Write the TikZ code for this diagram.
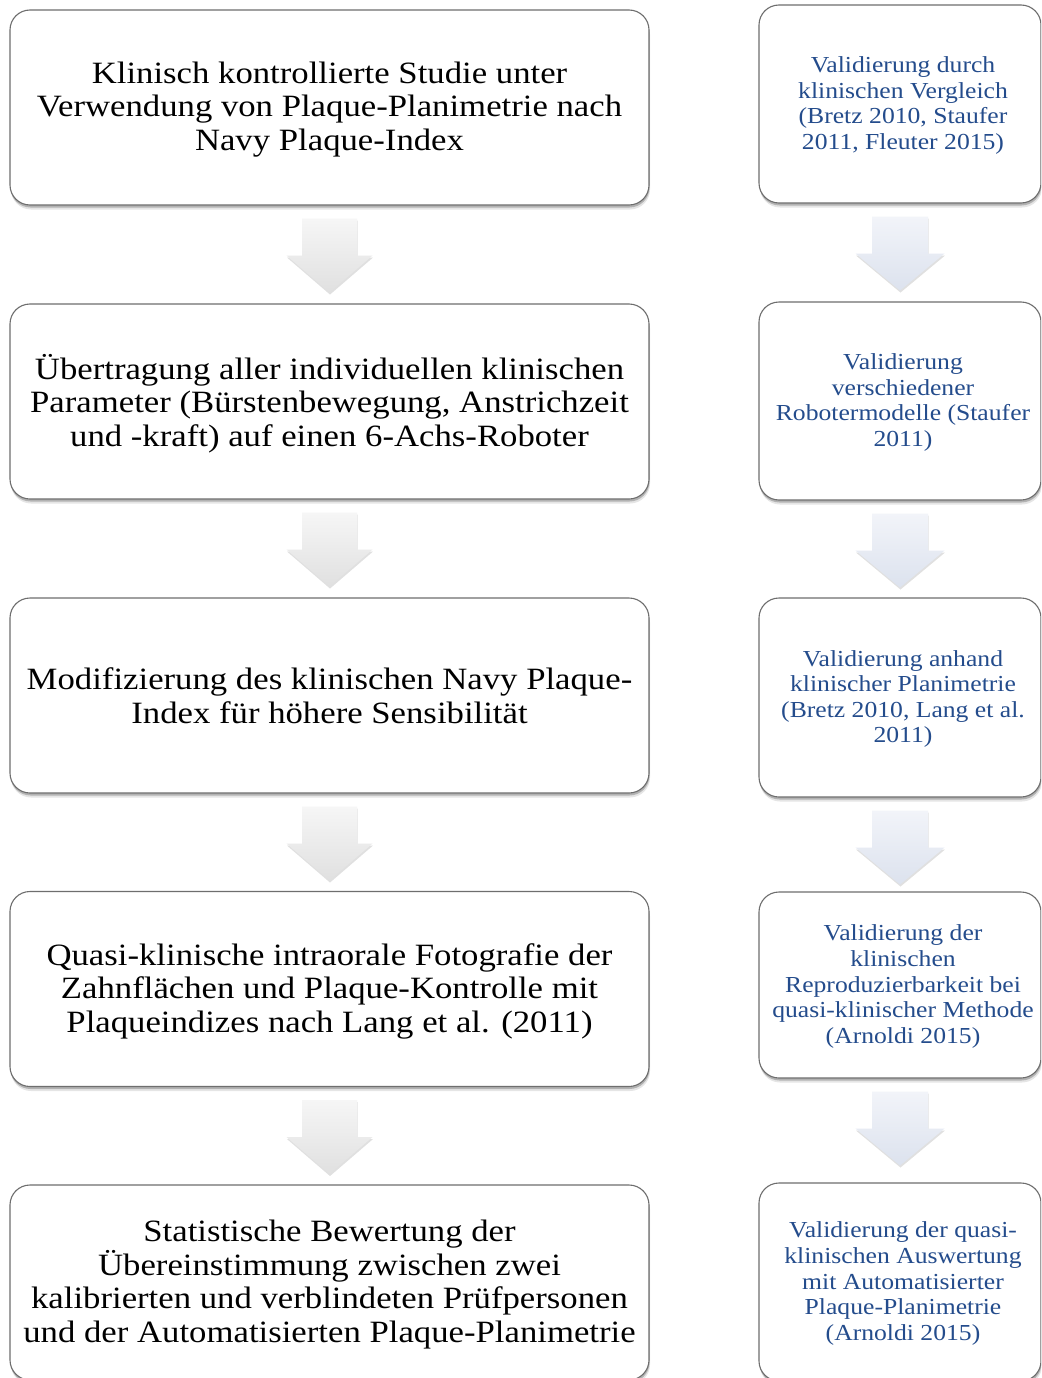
\documentclass[tikz,border=0pt]{standalone}
\usepackage{fontspec}
\setmainfont[FakeStretch=1.12]{Liberation Serif}
\usetikzlibrary{shadows,calc}
\definecolor{txtblue}{RGB}{36,76,140}
\definecolor{arrLtop}{RGB}{246,246,246}
\definecolor{arrLbot}{RGB}{224,224,224}
\definecolor{arrRtop}{RGB}{242,244,249}
\definecolor{arrRbot}{RGB}{220,226,238}
\tikzset{
  softshadow/.style={
    drop shadow={shadow xshift=1pt, shadow yshift=-4.5pt, opacity=0.10, fill=black},
    drop shadow={shadow xshift=0.5pt, shadow yshift=-2.5pt, opacity=0.22, fill=black}},
  basebox/.style={draw=black!57, line width=1.1pt, rounded corners=20pt, fill=white,
    inner sep=0pt, softshadow},
  lbox/.style={basebox, minimum width=639pt, minimum height=195pt},
  rbox/.style={basebox, minimum width=282pt},
  ltext/.style={inner sep=0pt, align=center, font=\fontsize{31}{33.5}\selectfont},
  rtext/.style={inner sep=0pt, align=center, text=txtblue, font=\fontsize{22.9}{25.6}\selectfont},
  larrow/.style={top color=arrLtop, bottom color=arrLbot,
    drop shadow={shadow xshift=0.5pt, shadow yshift=-2pt, opacity=0.12, fill=black}},
  rarrow/.style={top color=arrRtop, bottom color=arrRbot,
    drop shadow={shadow xshift=0.5pt, shadow yshift=-2pt, opacity=0.12, fill=black}},
}
% block arrow below a named node: #1 node, #2 style, #3 shaft half width, #4 head half width
\newcommand\blockarrowbelow[4]{%
  \begin{scope}[shift={(#1.south)}]
    \path[#2] (-#3,13) -- (#3,13) -- (#3,50) -- (#4,50) -- (0,87) -- (-#4,50) -- (-#3,50) -- cycle;
  \end{scope}}
\begin{document}
\begin{tikzpicture}[x=1pt,y=-1pt]
\clip (0,0) rectangle (1041,1378);
\fill[white] (0,0) rectangle (1041,1378);

% left column boxes
\node[lbox] (L1) at (329.5,107.5) {};
\node[lbox] (L2) at (329.5,401.5) {};
\node[lbox] (L3) at (329.5,695.5) {};
\node[lbox] (L4) at (329.5,989) {};
\node[lbox] (L5) at (329.5,1282.5) {};
% right column boxes
\node[rbox, minimum height=198pt] (R1) at (900,104) {};
\node[rbox, minimum height=198pt] (R2) at (900,401) {};
\node[rbox, minimum height=199pt] (R3) at (900,697.5) {};
\node[rbox, minimum height=186pt] (R4) at (900,985) {};
\node[rbox, minimum height=198pt] (R5) at (900,1282) {};

% left texts
\node[ltext] (L1t) at ($(L1.center)+(0,2)$) {Klinisch kontrollierte Studie unter\\Verwendung von Plaque-Planimetrie nach\\Navy Plaque-Index};
\node[ltext] (L2t) at ($(L2.center)+(0,2)$) {Übertragung aller individuellen klinischen\\Parameter (Bürstenbewegung, Anstrichzeit\\und -kraft) auf einen 6-Achs-Roboter};
\node[ltext] (L3t) at ($(L3.center)+(0,0)$) {Modifizierung des klinischen Navy Plaque-\\Index für höhere Sensibilität};
\node[ltext] (L4t) at ($(L4.center)+(0,2)$) {Quasi-klinische intraorale Fotografie der\\Zahnflächen und Plaque-Kontrolle mit\\Plaqueindizes nach Lang et al. (2011)};
\node[ltext] (L5t) at ($(L5.center)+(0,2)$) {Statistische Bewertung der\\Übereinstimmung zwischen zwei\\kalibrierten und verblindeten Prüfpersonen\\und der Automatisierten Plaque-Planimetrie};

% right texts
\node[rtext] (R1t) at ($(R1.center)+(3,1.5)$) {Validierung durch\\klinischen Vergleich\\(Bretz 2010, Staufer\\2011, Fleuter 2015)};
\node[rtext] (R2t) at ($(R2.center)+(3,1.5)$) {Validierung\\verschiedener\\Robotermodelle (Staufer\\2011)};
\node[rtext] (R3t) at ($(R3.center)+(3,1.5)$) {Validierung anhand\\klinischer Planimetrie\\(Bretz 2010, Lang et al.\\2011)};
\node[rtext] (R4t) at ($(R4.center)+(3,1.5)$) {Validierung der\\klinischen\\Reproduzierbarkeit bei\\quasi-klinischer Methode\\(Arnoldi 2015)};
\node[rtext] (R5t) at ($(R5.center)+(3,1.5)$) {Validierung der quasi-\\klinischen Auswertung\\mit Automatisierter\\Plaque-Planimetrie\\(Arnoldi 2015)};

% arrows
\foreach \n in {L1,L2,L3,L4} {\blockarrowbelow{\n}{larrow}{27.5}{43}}
\foreach \n in {R1,R2,R3,R4} {\blockarrowbelow{\n}{rarrow}{28}{44.5}}
\end{tikzpicture}
\end{document}
